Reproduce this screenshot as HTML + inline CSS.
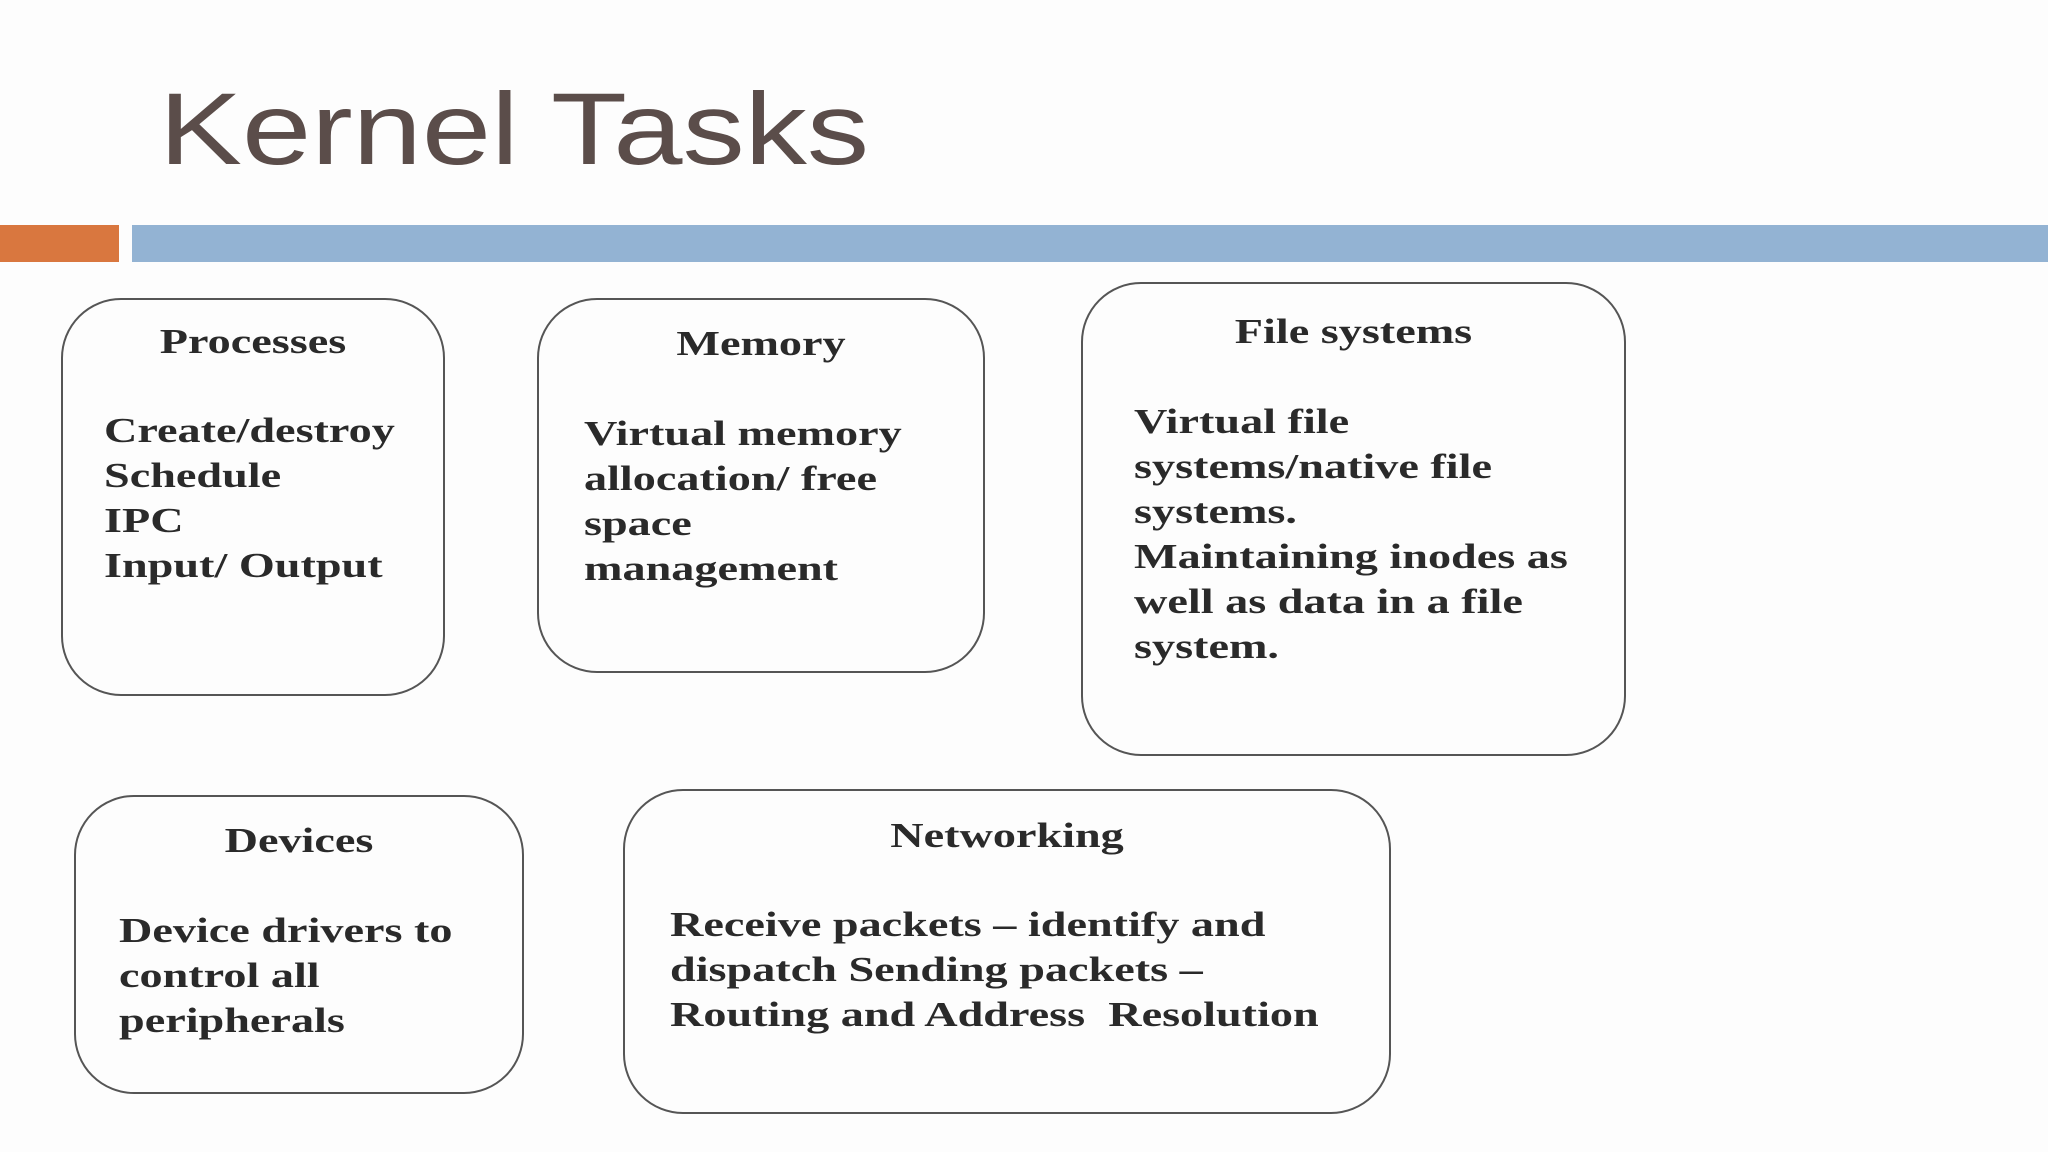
<!DOCTYPE html>
<html><head><meta charset="utf-8"><style>
html,body{margin:0;padding:0;}
body{width:2048px;height:1152px;background:#fdfdfd;position:relative;overflow:hidden;}
.t{position:absolute;left:159px;top:68px;font-family:"Liberation Sans",sans-serif;font-size:102px;color:#5b4d4a;line-height:1.2;transform:scaleX(1.22);transform-origin:0 0;white-space:nowrap;}
.bar{position:absolute;top:225px;height:37px;}
.box{position:absolute;border:2.5px solid #555;border-radius:60px;box-sizing:border-box;}
.tx{position:absolute;font-family:"Liberation Serif",serif;font-size:35px;font-weight:bold;line-height:45px;color:#2a2a2a;white-space:pre;transform:scaleX(1.32);transform-origin:0 0;}
.h{position:absolute;font-family:"Liberation Serif",serif;font-size:35px;font-weight:bold;line-height:45px;color:#2a2a2a;text-align:center;transform:scaleX(1.32);transform-origin:50% 0;}
</style></head><body>
<div class="t">Kernel Tasks</div>
<div class="bar" style="left:0;width:119px;background:#d9773f"></div>
<div class="bar" style="left:132px;width:1916px;background:#93b3d3"></div>

<div class="box" style="left:61px;top:298px;width:384px;height:398px"></div>
<div class="h" style="left:61px;width:384px;top:319px">Processes</div>
<div class="tx" style="left:104px;top:408px">Create/destroy
Schedule
IPC
Input/ Output</div>

<div class="box" style="left:537px;top:298px;width:448px;height:375px"></div>
<div class="h" style="left:537px;width:448px;top:321px">Memory</div>
<div class="tx" style="left:584px;top:411px">Virtual memory
allocation/ free
space
management</div>

<div class="box" style="left:1081px;top:282px;width:545px;height:474px"></div>
<div class="h" style="left:1081px;width:545px;top:309px">File systems</div>
<div class="tx" style="left:1134px;top:399px">Virtual file
systems/native file
systems.
Maintaining inodes as
well as data in a file
system.</div>

<div class="box" style="left:74px;top:795px;width:450px;height:299px"></div>
<div class="h" style="left:74px;width:450px;top:818px">Devices</div>
<div class="tx" style="left:119px;top:908px">Device drivers to
control all
peripherals</div>

<div class="box" style="left:623px;top:789px;width:768px;height:325px"></div>
<div class="h" style="left:623px;width:768px;top:813px">Networking</div>
<div class="tx" style="left:670px;top:902px">Receive packets – identify and
dispatch Sending packets –
Routing and Address  Resolution</div>
</body></html>
